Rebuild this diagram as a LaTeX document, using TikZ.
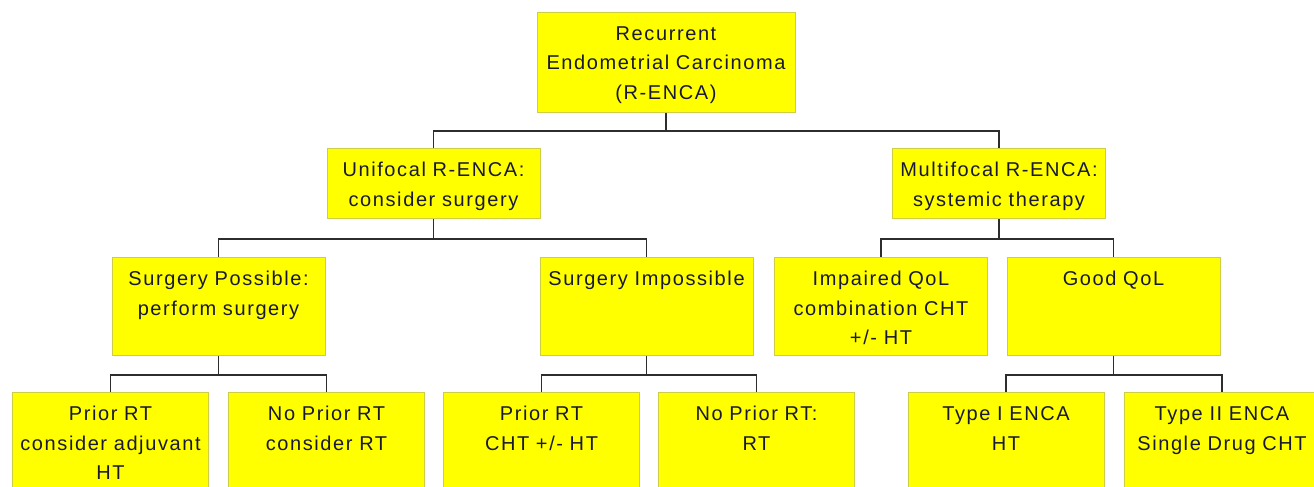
\documentclass[tikz,border=0pt]{standalone}
\usepackage{fontspec}
\newfontfamily\boxfont{Liberation Sans}[LetterSpace=8]
\definecolor{boxfill}{RGB}{255,255,0}
\definecolor{boxedge}{RGB}{205,205,70}
\definecolor{boxtext}{RGB}{25,25,55}
\definecolor{linkgray}{RGB}{45,45,45}
\tikzset{
  box/.style={draw=boxedge, fill=boxfill, line width=1pt, anchor=north,
    inner xsep=3pt, inner ysep=0pt, align=center, text=boxtext,
    font=\boxfont\fontsize{20}{29.5}\selectfont, text height=28pt},
  lvlroot/.style={box, text width=252pt, text depth=72pt},
  lvlone/.style={box, text width=207pt, text depth=42pt},
  lvltwo/.style={box, text width=207pt, text depth=70pt},
  lvlthree/.style={box, text width=190pt, text depth=70pt},
  link/.style={draw=linkgray, line width=1.5pt}
}
\begin{document}
\begin{tikzpicture}[x=1pt, y=-1pt]
  \useasboundingbox (0, 0) rectangle (1314, 487);
  \node (root) at (666, 12) [lvlroot] {Recurrent\\Endometrial Carcinoma\\(R-ENCA)};
  \node (uni) at (433.5, 148) [lvlone] {Unifocal R-ENCA:\\consider surgery};
  \node (multi) at (999, 148) [lvlone] {Multifocal R-ENCA:\\systemic therapy};
  \node (spos) at (218.5, 257) [lvltwo] {Surgery Possible:\\perform surgery};
  \node (simp) at (646.5, 257) [lvltwo] {Surgery Impossible};
  \node (impq) at (881, 257) [lvltwo] {Impaired QoL\\combination CHT\\+/- HT};
  \node (goodq) at (1113.5, 257) [lvltwo] {Good QoL};
  \node (prt1) at (110.5, 392) [lvlthree] {Prior RT\\consider adjuvant\\HT};
  \node (nprt1) at (326.5, 392) [lvlthree] {No Prior RT\\consider RT};
  \node (prt2) at (541.5, 392) [lvlthree] {Prior RT\\CHT +/- HT};
  \node (nprt2) at (756.5, 392) [lvlthree] {No Prior RT:\\RT};
  \node (type1) at (1006, 392) [lvlthree] {Type I ENCA\\HT};
  \node (type2) at (1222, 392) [lvlthree] {Type II ENCA\\Single Drug CHT};
  \draw[link] (root.south) -- ++(0, 18) -| (uni.north);
  \draw[link] (root.south) -- ++(0, 18) -| (multi.north);
  \draw[link] (uni.south) -- ++(0, 20) -| (spos.north);
  \draw[link] (uni.south) -- ++(0, 20) -| (simp.north);
  \draw[link] (multi.south) -- ++(0, 20) -| (impq.north);
  \draw[link] (multi.south) -- ++(0, 20) -| (goodq.north);
  \draw[link] (spos.south) -- ++(0, 19) -| (prt1.north);
  \draw[link] (spos.south) -- ++(0, 19) -| (nprt1.north);
  \draw[link] (simp.south) -- ++(0, 19) -| (prt2.north);
  \draw[link] (simp.south) -- ++(0, 19) -| (nprt2.north);
  \draw[link] (goodq.south) -- ++(0, 19) -| (type1.north);
  \draw[link] (goodq.south) -- ++(0, 19) -| (type2.north);
\end{tikzpicture}
\end{document}
